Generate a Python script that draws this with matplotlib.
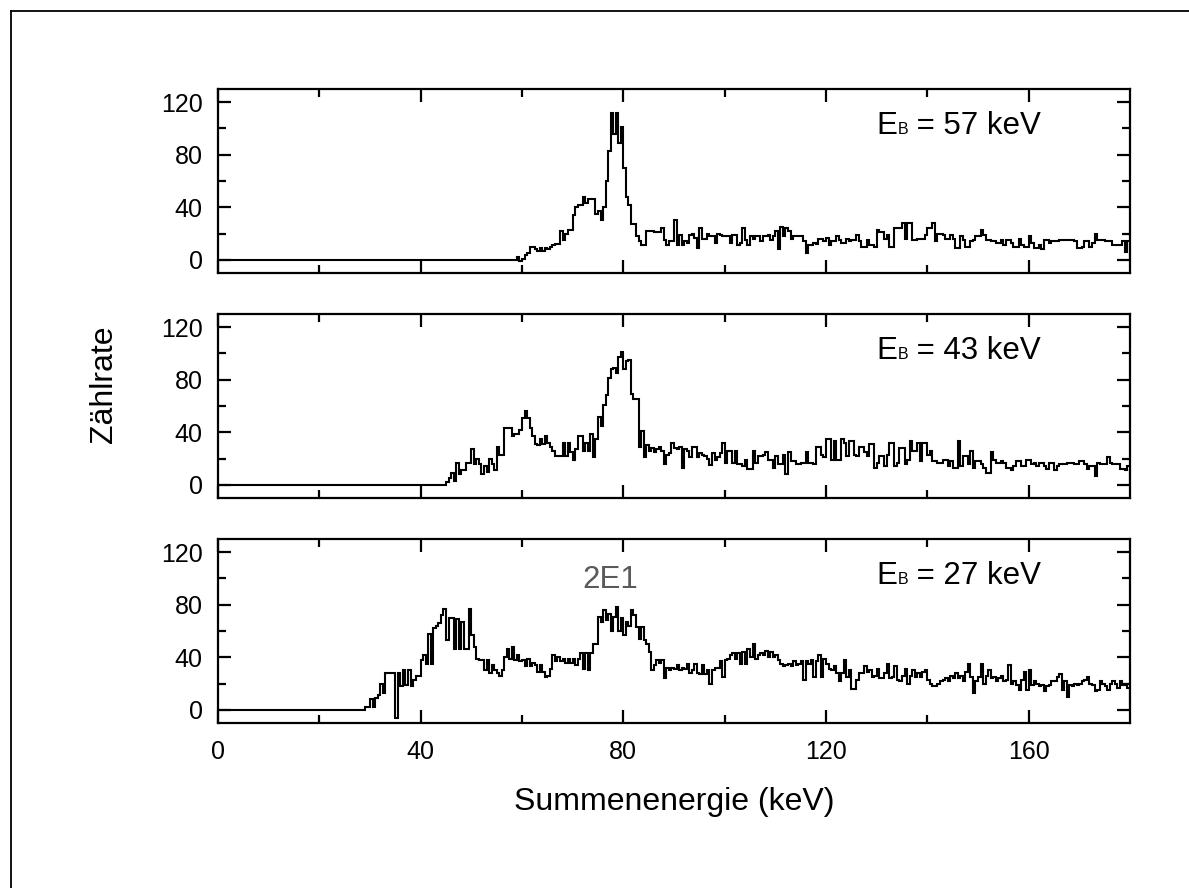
import numpy as np
import matplotlib.pyplot as plt
from matplotlib.lines import Line2D

plt.rcParams['font.family'] = ['Liberation Sans', 'DejaVu Sans']

# channel width of the spectra (keV); counts below the first channel are zero
BIN = 0.5

# E_B = 57 keV, channels from 59.0 keV
start_57 = 59.0
counts_57 = [
    2, -1, 1, 4, 5, 10, 10, 8, 7, 9,
    7, 9, 8, 10, 11, 12, 12, 22, 15, 20,
    23, 23, 34, 40, 42, 42, 48, 43, 46, 46,
    46, 35, 37, 30, 40, 60, 83, 112, 96, 112,
    89, 101, 70, 48, 42, 27, 27, 18, 14, 11,
    11, 22, 22, 22, 21, 21, 21, 24, 15, 11,
    14, 14, 30, 11, 19, 11, 14, 13, 19, 20,
    17, 9, 24, 16, 16, 20, 18, 18, 13, 20,
    19, 18, 18, 18, 13, 19, 19, 11, 13, 24,
    15, 11, 18, 16, 18, 18, 14, 18, 18, 19,
    15, 18, 22, 8, 25, 18, 24, 22, 16, 18,
    18, 18, 18, 14, 5, 11, 11, 13,
    12, 16, 16, 14, 17, 11, 14, 14, 18, 15,
    13, 13, 16, 14, 15, 15, 19, 14, 10, 10,
    15, 11, 11, 10, 23, 21, 21, 16, 19, 10,
    10, 24, 24, 24, 28, 16, 28, 28, 15, 15,
    16, 16, 16, 19, 24, 24, 28, 14, 20, 20,
    19, 16, 16, 19, 16, 9, 9, 18, 15, 10,
    10, 14, 15, 18, 18, 23, 19, 15, 15, 14,
    14, 13, 13, 15, 11, 15, 15, 13, 10, 10,
    16, 11, 10, 10, 18, 13, 9, 9, 11, 8,
    15, 15, 13, 14, 14, 14, 15, 15, 15, 15,
    15, 15, 14, 9, 9, 10, 14, 14, 10, 13,
    20, 15, 15, 15, 14, 14, 14, 11, 11, 11,
    11, 14, 6, 14,
]

# E_B = 43 keV, channels from 45.0 keV
start_43 = 45.0
counts_43 = [
    2, 5, 9, 3, 17, 8, 11, 11, 17, 17,
    27, 16, 20, 16, 8, 14, 10, 20, 16, 11,
    29, 23, 23, 43, 43, 43, 37, 39, 39, 42,
    51, 56, 51, 43, 37, 31, 30, 35, 31, 37,
    32, 29, 26, 22, 22, 22, 32, 22, 32, 25,
    19, 27, 37, 37, 26, 32, 26, 39, 21, 35,
    52, 45, 61, 68, 81, 88, 89, 85, 97, 101,
    88, 94, 95, 69, 65, 65, 29, 41, 21, 30,
    26, 28, 25, 27, 29, 26, 16, 23, 24, 32,
    28, 27, 29, 13, 27, 26, 21, 29, 29, 21,
    24, 23, 22, 20, 15, 24, 19, 21, 24, 32,
    17, 26, 26, 17, 26, 16, 16, 14, 19, 12,
    12, 26, 17, 22, 22, 23, 25, 19, 19, 13,
    22, 16, 16, 23, 8, 25, 18, 18, 16, 16,
    17, 17, 25, 17, 17, 16, 29, 29, 23, 21,
    35, 35, 19, 33, 19, 19, 35, 32, 22, 33,
    33, 23, 22, 29, 29, 25, 22, 31, 31, 13,
    17, 22, 22, 14, 23, 32, 32, 14, 17, 28,
    28, 16, 19, 33, 26, 26, 32, 18, 32, 32,
    23, 26, 18, 18, 17, 17, 19, 19, 14, 18,
    13, 13, 33, 14, 22, 22, 16, 26, 13, 18,
    18, 16, 13, 9, 9, 25, 19, 17, 17, 18,
    17, 13, 13, 11, 14, 18, 18, 14, 14, 19,
    19, 16, 17, 14, 17, 17, 14, 12, 17, 17,
    11, 14, 16, 16, 16, 17, 17, 17, 16, 16,
    18, 18, 16, 12, 14, 14, 7, 17, 16, 16,
    16, 21, 17, 16, 16, 16, 12, 12, 11, 14,
]

# E_B = 27 keV, channels from 29.0 keV
start_27 = 29.0
counts_27 = [
    2, 2, 8, 2, 9, 11, 20, 13, 28, 28,
    28, 28, -6, 28, 18, 30, 19, 30, 18, 23,
    26, 26, 38, 42, 35, 58, 35, 62, 64, 66,
    72, 77, 53, 70, 70, 46, 69, 46, 67, 46,
    46, 77, 57, 48, 39, 38, 38, 30, 38, 28,
    34, 30, 28, 26, 30, 40, 46, 39, 48, 38,
    42, 37, 38, 33, 39, 33, 36, 34, 29, 34,
    29, 25, 26, 31, 42, 37, 40, 37, 39, 36,
    39, 36, 39, 34, 39, 43, 31, 43, 30, 43,
    50, 50, 71, 67, 76, 68, 73, 60, 71, 78,
    60, 70, 57, 67, 64, 76, 72, 63, 54, 63,
    53, 50, 44, 30, 34, 38, 36, 38, 24, 32,
    30, 32, 31, 34, 30, 32, 31, 35, 28, 30,
    35, 28, 27, 34, 27, 30, 20, 30, 32, 32,
    37, 25, 38, 39, 42, 43, 39, 43, 35, 44,
    35, 46, 40, 50, 39, 42, 43, 42, 45, 40,
    44, 40, 42, 38, 35, 33, 34, 35, 33, 37,
    34, 35, 37, 23, 37, 35, 38, 25, 37, 42,
    25, 39, 35, 31, 30, 33, 28, 22, 28, 38,
    25, 30, 16, 16, 23, 28, 28, 33, 29, 30,
    25, 26, 31, 24, 24, 28, 35, 24, 25, 33,
    23, 22, 26, 31, 20, 26, 30, 25, 28, 25,
    29, 30, 23, 20, 18, 18, 20, 22, 23, 24,
    22, 26, 24, 28, 24, 26, 22, 29, 35, 25,
    13, 22, 25, 35, 20, 26, 30, 24, 25, 22,
    24, 26, 22, 23, 34, 20, 22, 19, 15, 23,
    29, 15, 30, 19, 22, 20, 18, 19, 14, 18,
    19, 22, 22, 25, 27, 15, 22, 10, 19, 18,
    20, 19, 20, 22, 23, 25, 20, 19, 14, 15,
    22, 20, 18, 15, 20, 22, 20, 17, 22, 19,
    20, 17,
]

panels = [
    (start_57, counts_57, "57"),
    (start_43, counts_43, "43"),
    (start_27, counts_27, "27"),
]

fig = plt.figure(figsize=(11.89, 8.88), dpi=100)

# outer frame: only its top and left edges fall inside the picture
fx, fy = 11 / 1189, 1 - 11 / 888
fig.add_artist(Line2D([fx, 1], [fy, fy], transform=fig.transFigure, color='black', linewidth=1.3))
fig.add_artist(Line2D([fx, fx], [0, fy], transform=fig.transFigure, color='black', linewidth=1.3))

left, width, height = 218 / 1189, 912 / 1189, 184 / 888
bottoms = [1 - 273 / 888, 1 - 498 / 888, 1 - 723 / 888]

for i, ((start, counts, eb), bot) in enumerate(zip(panels, bottoms)):
    ax = fig.add_axes([left, bot, width, height])
    vals = np.concatenate([[0], counts])
    edges = np.concatenate([[0], start + BIN * np.arange(len(counts) + 1)])
    ax.stairs(vals, edges, color='black', linewidth=1.5)

    ax.set_xlim(0, 180)
    ax.set_ylim(-10, 130)
    ax.set_xticks([0, 40, 80, 120, 160])
    ax.set_xticks([20, 60, 100, 140], minor=True)
    ax.set_yticks([0, 40, 80, 120])
    ax.set_yticks([20, 60, 100], minor=True)
    ax.tick_params(which='both', direction='in', top=True, right=True, width=1.6, labelsize=18)
    ax.tick_params(which='major', length=9.5)
    ax.tick_params(which='minor', length=5.5)
    ax.tick_params(axis='y', pad=11)
    ax.tick_params(axis='x', pad=12)
    for sp in ax.spines.values():
        sp.set_linewidth(1.6)
    if i < 2:
        ax.tick_params(axis='x', labelbottom=False)

    # "E_B = .. keV" with a small B on the baseline
    x0, y0 = 129.9, 95.4
    ax.text(x0, y0, "E", fontsize=22.5, ha='left', va='baseline')
    ax.annotate("B", xy=(x0, y0), xytext=(15.2, 0), textcoords='offset points',
                fontsize=11.5, ha='left', va='baseline')
    ax.annotate(f" = {eb} keV", xy=(x0, y0), xytext=(22.9, 0), textcoords='offset points',
                fontsize=22.5, ha='left', va='baseline')

    if eb == "27":
        ax.text(77.4, 92.6, "2E1", fontsize=22.5, color='#5a5a5a', ha='center', va='baseline')

fig.text(104 / 1189, 1 - 384 / 888, "Zählrate", rotation=90, fontsize=23, ha='center', va='center')
fig.text((218 + 1130) / 2 / 1189, 1 - 810 / 888, "Summenenergie (keV)", fontsize=23,
         ha='center', va='baseline')

fig.savefig("out.png", dpi=100)
